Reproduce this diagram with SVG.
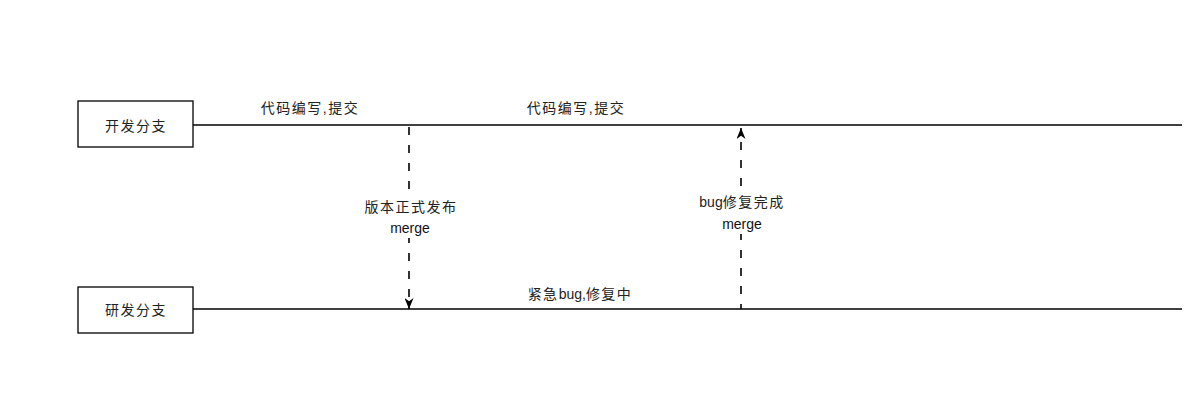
<svg xmlns="http://www.w3.org/2000/svg" width="1198" height="412" viewBox="0 0 1198 412">
  <defs>
    <style>
      .box { fill: #ffffff; stroke: #000000; stroke-width: 1.3; }
      .line { stroke: #000000; stroke-width: 1.3; fill: none; }
      .dash { stroke: #000000; stroke-width: 1.6; fill: none; stroke-dasharray: 8 10; }
      .t { font-family: "Liberation Sans", "Noto Sans CJK SC", sans-serif; font-size: 14px; fill: #222222; text-anchor: middle; letter-spacing: 1.5px; }
      .l { letter-spacing: 0px; }
      .m { font-family: "Liberation Sans", "Noto Sans CJK SC", sans-serif; font-size: 14px; fill: #111111; text-anchor: middle; }
      .bg { fill: #ffffff; stroke: none; }
    </style>
    <marker id="arrow" viewBox="0 0 10 10" preserveAspectRatio="none" refX="10" refY="5" markerWidth="11" markerHeight="9" orient="auto" markerUnits="userSpaceOnUse">
      <path d="M0,0 L10,5 L0,10 L3,5 Z" fill="#000000"/>
    </marker>
  </defs>
  <rect width="1198" height="412" fill="#ffffff"/>

  <g id="connectors">
    <line class="line" x1="193" y1="125" x2="1182" y2="125"/>
    <line class="line" x1="193" y1="309" x2="1182" y2="309"/>
    <line class="dash" x1="409" y1="127" x2="409" y2="309" marker-end="url(#arrow)"/>
    <line class="dash" x1="741" y1="309" x2="741" y2="128" marker-end="url(#arrow)" style="stroke-dashoffset:3"/>
  </g>

  <g id="dev-branch">
    <rect class="box" x="78" y="101" width="115" height="46"/>
    <text class="t" x="136" y="131">开发分支</text>
  </g>
  <g id="rd-branch">
    <rect class="box" x="78" y="287" width="115" height="46"/>
    <text class="t" x="136" y="315">研发分支</text>
  </g>

  <g id="label-dev-1">
    <text class="t" x="310" y="113">代码编写,提交</text>
  </g>
  <g id="label-dev-2">
    <text class="t" x="576" y="113">代码编写,提交</text>
  </g>
  <g id="label-rd">
    <text class="t" x="580" y="299">紧急<tspan class="l">bug,</tspan>修复中</text>
  </g>

  <g id="label-release">
    <rect class="bg" x="366" y="196" width="90" height="42"/>
    <text class="t" x="411" y="212">版本正式发布</text>
    <text class="m" x="410" y="233">merge</text>
  </g>
  <g id="label-fix">
    <rect class="bg" x="698" y="192" width="88" height="42"/>
    <text class="t" x="742" y="207"><tspan class="l">bug</tspan>修复完成</text>
    <text class="m" x="742" y="229">merge</text>
  </g>
</svg>
